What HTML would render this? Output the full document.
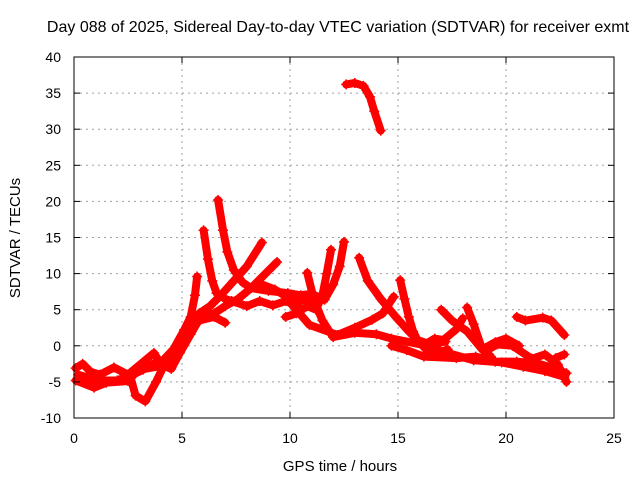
<!DOCTYPE html>
<html><head><meta charset="utf-8"><style>
html,body{margin:0;padding:0;background:#fff}
svg{display:block;font-family:"Liberation Sans",sans-serif}
</style></head><body>
<svg id="chart" width="640" height="480" viewBox="0 0 640 480">
<text x="338" y="32" text-anchor="middle" font-size="16">Day 088 of 2025, Sidereal Day-to-day VTEC variation (SDTVAR) for receiver exmt</text>
<g id="grid"></g>
<g id="series"></g>
<rect x="74" y="57" width="540" height="361" fill="none" stroke="#000" stroke-width="1"/>
<g id="ticks"></g>
<text x="340" y="471" text-anchor="middle" font-size="15">GPS time / hours</text>
<text transform="translate(20,238) rotate(-90)" text-anchor="middle" font-size="15">SDTVAR / TECUs</text>
</svg>
<script>
const xTicks=[0,5,10,15,20,25];
const yTicks=[-10,-5,0,5,10,15,20,25,30,35,40];
const track1=[[12.6,36.2],[13.0,36.4],[13.4,36.0],[13.7,34.5],[13.9,32.5],[14.2,29.8]];
const track2=[[6.67,20.2],[6.9,16],[7.1,13],[7.4,10.5],[7.8,8.8],[8.2,8],[9.0,7.6],[9.9,7.3],[10.5,7.0],[11.0,7.2],[11.6,6.4]];
const track3=[[6.0,16],[6.2,12],[6.4,9],[6.6,7.3],[7.0,6.5],[7.3,6.2],[8.0,5.5],[8.6,6.2],[9.2,5.6],[9.8,6.2],[10.4,5.5]];
const track4=[[0.08,-3.1],[0.4,-2.5],[0.77,-3.6],[1.2,-4],[1.85,-3],[2.5,-4],[3.7,-1],[4.0,-2.4],[4.6,-0.5],[5.1,2.2],[5.4,4],[5.6,7],[5.7,9.6]];
const track5=[[0.08,-4.8],[0.93,-5.8],[1.5,-5.1],[2.5,-4.9],[2.8,-3.9],[3.2,-3.3],[3.8,-2.3],[4.5,-3.2],[4.9,-1],[5.4,1.6],[5.9,4.2],[6.5,4.5],[7.0,5.5],[7.6,6.5],[8.2,8],[8.7,9.5],[9.4,11.6]];
const track6=[[2.6,-4.2],[2.85,-6.9],[3.3,-7.7],[3.8,-5],[4.2,-2.5],[4.8,0],[5.3,2.5],[5.8,4.5],[6.3,5.5],[6.8,7],[7.4,9],[8.0,11],[8.7,14.3]];
const track7=[[0.2,-4],[1.1,-4.8],[2.0,-4.8],[3.1,-3.3],[4.0,-2.8],[4.6,-1],[5.2,1.5],[5.8,3.5],[6.5,4],[7.0,3.2]];
const track8=[[12.5,14.4],[12.3,11],[12.0,8.5],[11.6,6.4],[11.0,6.2],[10.0,6.5],[9.3,7.8],[8.7,8.5]];
const track9=[[11.9,13.3],[11.7,10],[11.5,7],[11.2,5],[10.8,5.5],[10.3,4.5],[9.8,4.0]];
const track10=[[13.2,12.2],[13.6,9],[14.2,6.5],[14.9,4],[15.5,2],[15.9,0.8],[16.5,0.2],[17.2,0.6]];
const track11=[[15.1,9.1],[15.3,6.5],[15.5,4],[15.7,2],[15.9,0.8],[16.3,-0.5],[16.8,-1],[17.3,-0.5]];
const track12=[[17.0,5],[17.5,3.5],[18.2,2],[18.9,-0.5],[19.5,0.5],[20.0,1],[20.6,0]];
const track13=[[18.2,5.3],[18.5,3],[18.9,-0.5],[19.3,-1.5]];
const track14=[[20.5,4],[20.9,3.5],[21.7,3.9],[22.1,3.5],[22.7,1.5]];
const track15=[[22.3,-1.7],[22.7,-1.2]];
const track16=[[10.8,10.1],[11.1,6.5],[11.5,3.5],[12.0,1.2],[13.0,1.8],[14.0,1.6],[14.7,1],[16.2,0.1],[17.3,-1],[18.5,-2],[19.8,-2.3],[20.8,-2.9],[21.8,-3.5],[22.7,-4.3]];
const track17=[[10.0,6],[10.9,2.9],[12.2,1.5],[13.0,2.5],[13.8,3.6],[14.3,4.5],[14.8,6.8]];
const track18=[[14.7,0],[15.4,-0.6],[16.2,-1.5],[17.7,-1.7],[18.6,-1.5],[19.5,-2.2],[20.5,-2.2],[21.4,-2.4],[22.1,-3.0],[22.8,-3.8]];
const track19=[[16.2,0.1],[16.7,1],[17.1,0.8],[17.7,2.3],[18.0,3.8]];
const track20=[[19.0,-0.8],[19.6,0.2],[20.3,0],[21.2,-1.8],[21.8,-1.2],[22.4,-2.6],[22.8,-5]];
const tracks=[track1,track2,track3,track4,track5,track6,track7,track8,track9,track10,track11,track12,track13,track14,track15,track16,track17,track18,track19,track20];

const X0=74,X1=614,Y0=418,Y1=57;
const xs=t=>X0+(t-0)/(25-0)*(X1-X0);
const ys=v=>Y0-(v+10)/(40+10)*(Y0-Y1);
const NS="http://www.w3.org/2000/svg";
const grid=document.getElementById('grid'),ticks=document.getElementById('ticks'),ser=document.getElementById('series');
function mk(tag,attrs,parent){const e=document.createElementNS(NS,tag);for(const k in attrs)e.setAttribute(k,attrs[k]);parent.appendChild(e);return e;}
xTicks.forEach(t=>{
  const x=xs(t);
  if(t>0&&t<25){const g=mk('line',{x1:x,x2:x,y1:Y1,y2:Y0,stroke:'#a0a0a0','stroke-dasharray':'2,4'},grid);
  
  }
  const tk=mk('line',{x1:x,x2:x,y1:Y0,y2:Y0-6,stroke:'#000'},ticks);
  
  
  const tk2=mk('line',{x1:x,x2:x,y1:Y1,y2:Y1+6,stroke:'#000'},ticks);
  
  
  const l=mk('text',{x:x,y:443,'text-anchor':'middle','font-size':'14'},ticks);l.textContent=t;
  
  
});
yTicks.forEach(v=>{
  const y=ys(v);
  if(v>-10&&v<40){const g=mk('line',{x1:X0,x2:X1,y1:y,y2:y,stroke:'#a0a0a0','stroke-dasharray':'2,4'},grid);
  
  }
  const tk=mk('line',{x1:X0,x2:X0+6,y1:y,y2:y,stroke:'#000'},ticks);
  
  
  const tk2=mk('line',{x1:X1,x2:X1-6,y1:y,y2:y,stroke:'#000'},ticks);
  
  
  const l=mk('text',{x:61,y:y+5,'text-anchor':'end','font-size':'14'},ticks);l.textContent=v;
  
  
});
tracks.forEach((tr,i)=>{
  const pts=tr.map(p=>xs(p[0])+','+ys(p[1])).join(' ');
  const pl=mk('polyline',{points:pts,fill:'none',stroke:'#ff0000','stroke-width':'8','stroke-linejoin':'round','stroke-linecap':'round'},ser);
  
  
  tr.forEach(p=>{
    const cx=xs(p[0]),cy=ys(p[1]);
    const m=mk('path',{d:`M${cx-5},${cy}H${cx+5}M${cx},${cy-5}V${cy+5}`,stroke:'#ff0000','stroke-width':'1.5'},ser);
    
    
  });
});
</script>
</body></html>
